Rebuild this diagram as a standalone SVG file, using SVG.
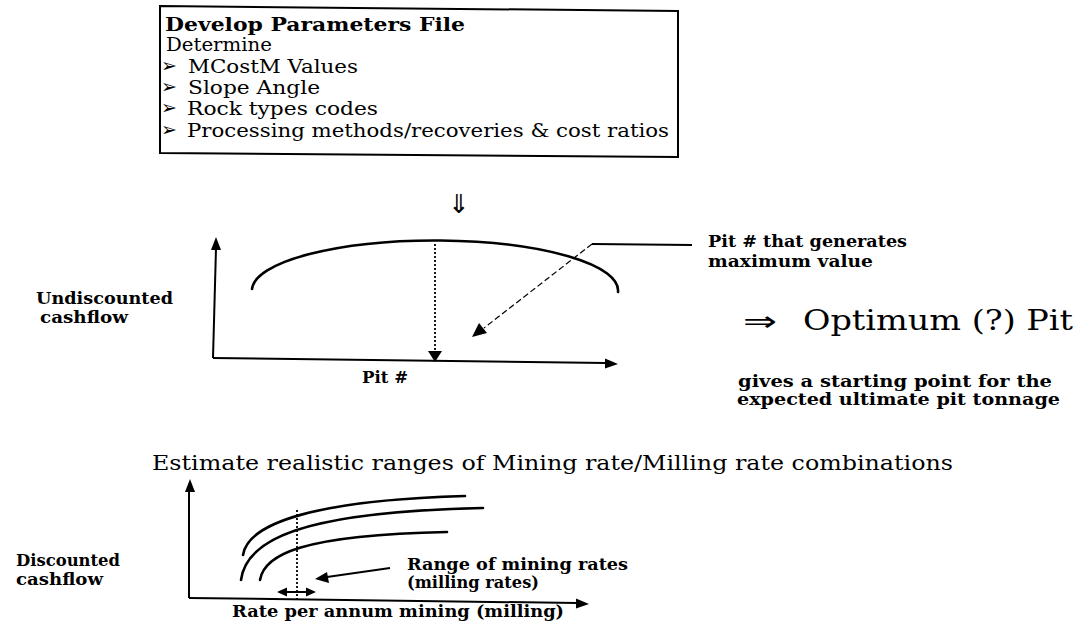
<svg xmlns="http://www.w3.org/2000/svg" width="1077" height="632" viewBox="0 0 1077 632">
<style>
text{font-family:"DejaVu Serif","Liberation Serif",serif;fill:#000}
.b{font-weight:bold}
.box{font-size:18.5px}
.lab{font-size:17px;font-weight:bold}
.sym{font-family:"DejaVu Sans","Noto Sans",sans-serif}
.ln{stroke:#000;fill:none;stroke-width:2}
.crv{stroke:#000;fill:none;stroke-width:2.6;stroke-linecap:round}
.dot{stroke:#000;fill:none;stroke-width:1.8;stroke-dasharray:2 2}
.dash{stroke:#000;fill:none;stroke-width:1.2;stroke-dasharray:6 3}
.ah{fill:#000;stroke:none}
</style>
<rect width="1077" height="632" fill="#fff"/>

<g id="params-box">
  <path class="ln" d="M160 6 L678 11 L678 157 L160 153 Z" stroke-width="1.6"/>
  <text class="box b" x="165" y="31" textLength="300" lengthAdjust="spacingAndGlyphs">Develop Parameters File</text>
  <text class="box" x="166" y="51" textLength="106" lengthAdjust="spacingAndGlyphs">Determine</text>
  <text class="sym" x="161" y="72" font-size="19">➢</text>
  <text class="sym" x="161" y="93" font-size="19">➢</text>
  <text class="sym" x="161" y="114" font-size="19">➢</text>
  <text class="sym" x="161" y="136" font-size="19">➢</text>
  <text class="box" x="188" y="73" textLength="170" lengthAdjust="spacingAndGlyphs">MCostM Values</text>
  <text class="box" x="188" y="94" textLength="132" lengthAdjust="spacingAndGlyphs">Slope Angle</text>
  <text class="box" x="187" y="115" textLength="191" lengthAdjust="spacingAndGlyphs">Rock types codes</text>
  <text class="box" x="187" y="137" textLength="482" lengthAdjust="spacingAndGlyphs">Processing methods/recoveries &amp; cost ratios</text>
</g>

<g id="down-arrow">
  <text class="sym" x="459" y="213" font-size="26" text-anchor="middle">⇓</text>
</g>

<g id="pit-chart">
  <line class="ln" x1="213" y1="358" x2="216" y2="248"/>
  <polygon class="ah" points="216,237 211,250 221,250"/>
  <line class="ln" x1="213" y1="358" x2="606" y2="363"/>
  <polygon class="ah" points="618,364 605,358.5 605,368.5"/>
  <path class="crv" d="M252 289 A183 50 0 0 1 618 292"/>
  <line class="dot" x1="435" y1="244" x2="435" y2="352"/>
  <polygon class="ah" points="428,351 442,351 435,362"/>
  <text class="lab" x="36" y="304" textLength="137" lengthAdjust="spacingAndGlyphs">Undiscounted</text>
  <text class="lab" x="40" y="323" textLength="88" lengthAdjust="spacingAndGlyphs">cashflow</text>
  <text class="lab" x="362" y="383" textLength="46" lengthAdjust="spacingAndGlyphs">Pit #</text>
</g>

<g id="pit-max-note">
  <text class="lab" x="708" y="247" textLength="199" lengthAdjust="spacingAndGlyphs">Pit # that generates</text>
  <text class="lab" x="708" y="267" textLength="165" lengthAdjust="spacingAndGlyphs">maximum value</text>
</g>

<g id="optimum-pit">
  <text class="sym" x="743" y="331" font-size="28" textLength="34" lengthAdjust="spacingAndGlyphs">⇒</text>
  <text x="803" y="330" font-size="28" textLength="270" lengthAdjust="spacingAndGlyphs">Optimum (?) Pit</text>
  <text class="lab" x="738" y="387" textLength="314" lengthAdjust="spacingAndGlyphs">gives a starting point for the</text>
  <text class="lab" x="737" y="405" textLength="323" lengthAdjust="spacingAndGlyphs">expected ultimate pit tonnage</text>
</g>

<g id="estimate-title">
  <text x="152" y="470" font-size="20" textLength="801" lengthAdjust="spacingAndGlyphs">Estimate realistic ranges of Mining rate/Milling rate combinations</text>
</g>

<g id="rate-chart">
  <line class="ln" x1="189" y1="598" x2="189" y2="491"/>
  <polygon class="ah" points="190,479 185,492 195,492"/>
  <line class="ln" x1="189" y1="598" x2="577" y2="603"/>
  <polygon class="ah" points="589,604 576,598.5 576,608.5"/>
  <path class="crv" d="M243 555 C248 522 320 500 465 496"/>
  <path class="crv" d="M241 580 C246 540 300 512 483 508"/>
  <path class="crv" d="M260 580 C264 555 300 535 447 532"/>
  <line class="dot" x1="297" y1="510" x2="297" y2="602"/>
  <text class="lab" x="16" y="566" textLength="104" lengthAdjust="spacingAndGlyphs">Discounted</text>
  <text class="lab" x="16" y="585" textLength="87" lengthAdjust="spacingAndGlyphs">cashflow</text>
  <text class="lab" x="232" y="617" textLength="332" lengthAdjust="spacingAndGlyphs">Rate per annum mining (milling)</text>
</g>

<g id="range-note">
  <text class="lab" x="407" y="570" textLength="221" lengthAdjust="spacingAndGlyphs">Range of mining rates</text>
  <text class="lab" x="407" y="588" textLength="132" lengthAdjust="spacingAndGlyphs">(milling rates)</text>
</g>

<g id="connectors">
  <line class="ln" x1="592" y1="244" x2="692" y2="245" stroke-width="1.4"/>
  <line class="dash" x1="592" y1="244" x2="484" y2="328"/>
  <polygon class="ah" points="472,337 487,333 479,323"/>
  <line class="ln" x1="285" y1="592" x2="308" y2="592" stroke-width="1.6"/>
  <polygon class="ah" points="277,592 287,587.5 287,596.5"/>
  <polygon class="ah" points="316,592 306,587.5 306,596.5"/>
  <line class="ln" x1="390" y1="568" x2="327" y2="577" stroke-width="2.2"/>
  <polygon class="ah" points="315,579 329,583 327,572"/>
</g>
</svg>
